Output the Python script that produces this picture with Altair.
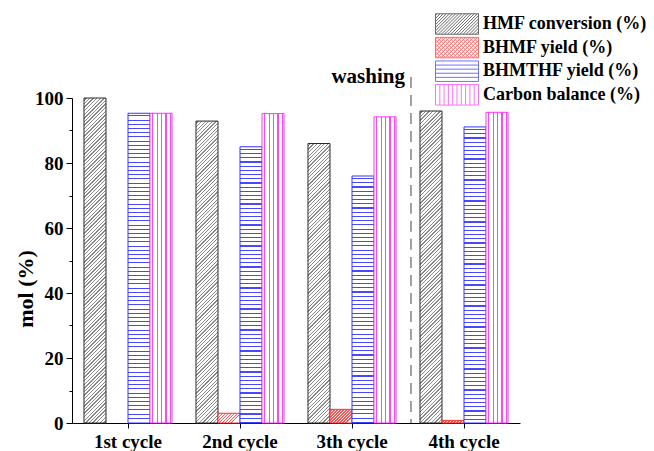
import altair as alt
import pandas as pd

# ---------------- data ----------------
cycles = ["1st cycle", "2nd cycle", "3th cycle", "4th cycle"]
series = ["HMF conversion (%)", "BHMF yield (%)", "BHMTHF yield (%)", "Carbon balance (%)"]
hmf_conversion = [100.0, 92.9, 86.0, 96.0]
bhmf_yield = [0.0, 3.0, 4.2, 0.8]
bhmthf_yield = [95.3, 85.0, 76.0, 91.1]
carbon_balance = [95.3, 95.2, 94.2, 95.6]
y_ticks = [0, 10, 20, 30, 40, 50, 60, 70, 80, 90, 100]
washing_label = ["washing"]
washing_cycle = ["4th cycle"]
washing_top = [106.5]
washing_base = [0.0]
washing_text_y = [104.6]

# ---------------- style ----------------
W, H = 448, 325
YMAX = 100.0
BAR_W = 22.0
FONT = "'Times New Roman', 'Liberation Serif', Times, serif"
stroke_colors = ["#2b2b2b", "#ff3030", "#3535ff", "#ff35ff"]
stripe_colors = ["#8a8a8a", "#ff5050", "#4848ff", "#ff44ff"]

all_values = [hmf_conversion, bhmf_yield, bhmthf_yield, carbon_balance]
rows = []
for i, c in enumerate(cycles):
    for j, s in enumerate(series):
        rows.append({"cycle": c, "series": s, "value": all_values[j][i], "key": f"{i}-{j}"})
df = pd.DataFrame(rows)


def make_stops(period, lw, extent, D, color, bg="#ffffff"):
    stops = [{"offset": 0, "color": bg}]
    k = 0
    while True:
        start = k * period + period * 0.5
        a = start / D
        b = (start + lw) / D
        if start > extent or b >= 1:
            break
        a, b = round(a, 6), round(b, 6)
        stops += [{"offset": a, "color": bg}, {"offset": a, "color": color},
                  {"offset": b, "color": color}, {"offset": b, "color": bg}]
        k += 1
    stops.append({"offset": 1, "color": bg})
    return stops


def diag_gradient(h, color, period=3.6, lw=1.3):
    r = h / BAR_W
    D = BAR_W * (1 + r * r)
    return {"gradient": "linear", "x1": 0, "y1": 0, "x2": 1, "y2": r,
            "stops": make_stops(period, lw, BAR_W + h, D, color)}


def hstripe_gradient(h, color, period=4.2, lw=1.1):
    return {"gradient": "linear", "x1": 0, "y1": 0, "x2": 0, "y2": 1,
            "stops": make_stops(period, lw, h, h, color)}


def vstripe_gradient(color, period=4.4, lw=1.1):
    return {"gradient": "linear", "x1": 0, "y1": 0, "x2": 1, "y2": 0,
            "stops": make_stops(period, lw, BAR_W, BAR_W, color)}


fill_conditions = []
for r_ in rows:
    h = r_["value"] * H / YMAX
    j = series.index(r_["series"])
    if h <= 0:
        continue
    if j == 0:
        g = diag_gradient(h, stripe_colors[0])
    elif j == 1:
        g = diag_gradient(h, stripe_colors[1], period=3.0, lw=1.2)
    elif j == 2:
        g = hstripe_gradient(h, stripe_colors[2])
    else:
        g = vstripe_gradient(stripe_colors[3])
    fill_conditions.append({"test": f"datum.key === '{r_['key']}'", "value": g})

stroke_conditions = [{"test": "datum.value <= 0", "value": "transparent"}] + [
    {"test": f"datum.series === '{s}'", "value": stroke_colors[j]} for j, s in enumerate(series)
]

# ---------------- legend symbol paths (units of 5 px) ----------------
hw, hh = 4.3, 2.05


def f(v):
    return f"{v:.3f}"


rect = f"M{f(-hw)},{f(-hh)}H{f(hw)}V{f(hh)}H{f(-hw)}Z"


def diag_path(step, back=False):
    parts = []
    c = -(hw + hh) + step * 0.5
    while c < hw + hh:
        xs, xe = max(-hw, c - hh), min(hw, c + hh)
        if xe > xs:
            if not back:
                parts.append(f"M{f(xs)},{f(c - xs)}L{f(xe)},{f(c - xe)}")
            else:
                parts.append(f"M{f(xs)},{f(xs - c)}L{f(xe)},{f(xe - c)}")
        c += step
    return "".join(parts)


p_hmf = rect + diag_path(0.62)
p_bhmf = rect + diag_path(0.8) + diag_path(0.8, back=True)
p_bhmthf = rect + "".join(
    f"M{f(-hw)},{f(-hh + k * 2 * hh / 5)}H{f(hw)}" for k in range(1, 5))
p_cb = rect + "".join(
    f"M{f(-hw + k * 2 * hw / 10)},{f(-hh)}V{f(hh)}" for k in range(1, 10))
shape_paths = [p_hmf, p_bhmf, p_bhmthf, p_cb]

x_scale = alt.Scale(domain=cycles, paddingInner=0.214, paddingOuter=0.107)
y_scale = alt.Scale(domain=[0, YMAX], nice=False, zero=True)

x_axis = alt.Axis(title=None, labelAngle=0, tickSize=5, labelPadding=4,
                  labelFont=FONT, labelFontWeight="bold", labelFontSize=19,
                  labelColor="black", domainColor="black", tickColor="black")
y_axis = alt.Axis(title="mol (%)", values=y_ticks,
                  labelExpr="datum.value % 20 === 0 ? datum.label : ''",
                  tickSize={"condition": {"test": "datum.value % 20 === 0", "value": 6}, "value": 3},
                  labelPadding=3, labelFont=FONT, labelFontWeight="bold",
                  labelFontSize=19, labelColor="black",
                  domainColor="black", tickColor="black",
                  titleFont=FONT, titleFontWeight="bold", titleFontSize=22,
                  titleColor="black", titleX=-47, titleY=H / 2 + 28, titleAngle=270,
                  titleAlign="center", titleBaseline="middle")

bars = alt.Chart(df).mark_bar(strokeWidth=1).encode(
    x=alt.X("cycle:N", sort=cycles, scale=x_scale, axis=x_axis),
    xOffset=alt.XOffset("series:N", sort=series,
                        scale=alt.Scale(domain=series, paddingInner=0, paddingOuter=0)),
    y=alt.Y("value:Q", scale=y_scale, axis=y_axis),
    fill=alt.FillValue("#ffffff", condition=fill_conditions),
    stroke=alt.StrokeValue("#000000", condition=stroke_conditions),
)

leg = dict(title=None, orient="none", legendX=359, legendY=-83,
           symbolSize=100, symbolStrokeWidth=1,
           labelFont=FONT, labelFontWeight="bold", labelFontSize=18,
           labelColor="black", rowPadding=-2.4, labelOffset=17,
           symbolOffset=17, labelLimit=300)

legend_layer = alt.Chart(df).transform_filter("false").mark_point(filled=False, strokeWidth=1).encode(
    shape=alt.Shape("series:N", sort=series, scale=alt.Scale(domain=series, range=shape_paths),
                    legend=alt.Legend(**leg)),
    stroke=alt.Stroke("series:N", sort=series, scale=alt.Scale(domain=series, range=stroke_colors),
                      legend=alt.Legend(**leg)),
)

annot = pd.DataFrame({"cycle": washing_cycle, "value": washing_top, "base": washing_base,
                      "ty": washing_text_y, "label": washing_label})

rule = alt.Chart(annot).mark_rule(color="#8a8a8a", strokeWidth=1.6, strokeDash=[11, 7], xOffset=-9).encode(
    x=alt.X("cycle:N", sort=cycles, bandPosition=0, scale=x_scale, axis=x_axis),
    y=alt.Y("value:Q", scale=y_scale, axis=y_axis),
    y2="base:Q",
)

text = alt.Chart(annot).mark_text(align="right", baseline="alphabetic", dx=-15, font=FONT,
                                  fontWeight="bold", fontSize=21, color="black").encode(
    x=alt.X("cycle:N", sort=cycles, bandPosition=0, scale=x_scale, axis=x_axis),
    y=alt.Y("ty:Q", scale=y_scale, axis=y_axis),
    text="label:N",
)

chart = alt.layer(bars, rule, text, legend_layer).properties(
    width=W, height=H,
    autosize=alt.AutoSizeParams(type="none"),
    padding={"left": 64, "top": 90, "right": 126, "bottom": 28},
    background="white",
).configure_view(stroke=None).configure_axis(grid=False, domainWidth=1, tickWidth=1)

chart.save("out.html", embed_options={"renderer": "svg", "actions": False})
